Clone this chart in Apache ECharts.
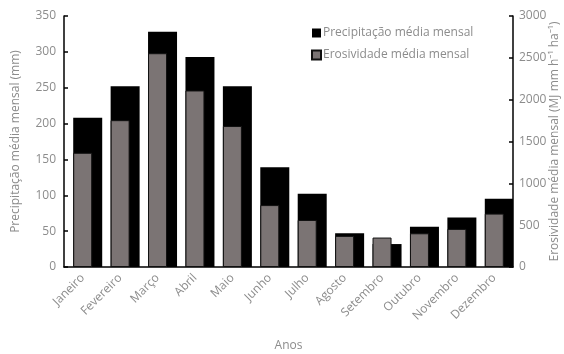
<!DOCTYPE html>
<html>
<head>
<meta charset="utf-8">
<script src="https://cdn.jsdelivr.net/npm/echarts@6/dist/echarts.min.js"></script>
<style>
  html, body { margin: 0; padding: 0; background: #fff; }
  #chart { width: 564px; height: 354px; }
</style>
</head>
<body>
<div id="chart"></div>
<script>
// Monthly categories and series values
const months = ['Janeiro', 'Fevereiro', 'Março', 'Abril', 'Maio', 'Junho', 'Julho', 'Agosto', 'Setembro', 'Outubro', 'Novembro', 'Dezembro'];
const precipitacao = [208, 252, 328, 293, 252, 139, 102, 47, 32, 56, 69, 95];
const erosividade = [1365, 1755, 2555, 2110, 1685, 740, 562, 372, 352, 403, 455, 638];

const leftTicks = { min: 0, max: 350, interval: 50 };
const rightTicks = { min: 0, max: 3000, interval: 500 };

const font = '"Open Sans", "Noto Sans", sans-serif';
const textGrey = '#8c8c8c';

const chart = echarts.init(document.getElementById('chart'), null, { renderer: 'canvas' });

chart.setOption({
  animation: false,
  backgroundColor: '#ffffff',
  textStyle: { fontFamily: font },
  grid: { left: 64, right: 51, top: 16, bottom: 87, containLabel: false, outerBoundsMode: 'none' },
  legend: {
    orient: 'vertical',
    left: 306,
    top: 22,
    itemWidth: 9,
    itemHeight: 9,
    itemGap: 10,
    icon: 'rect',
    textStyle: { color: textGrey, fontSize: 12, fontFamily: font, padding: [0, 0, 0, -3] },
    data: ['Precipitação média mensal', 'Erosividade média mensal']
  },
  xAxis: {
    type: 'category',
    data: months,
    name: 'Anos',
    nameLocation: 'middle',
    nameGap: 73,
    nameTextStyle: { color: textGrey, fontSize: 12 },
    axisLine: { show: true, lineStyle: { color: '#000', width: 1.5 } },
    axisTick: { show: false },
    axisLabel: { rotate: 45, color: textGrey, fontSize: 12, margin: 9, interval: 0 }
  },
  yAxis: [
    {
      type: 'value',
      min: leftTicks.min, max: leftTicks.max, interval: leftTicks.interval,
      name: 'Precipitação média mensal (mm)',
      nameLocation: 'middle',
      nameRotate: 90,
      nameGap: 42,
      nameMoveOverlap: false,
      nameTextStyle: { color: textGrey, fontSize: 12 },
      axisLine: { show: true, lineStyle: { color: '#000', width: 1.5 } },
      axisTick: { show: true, inside: true, length: 4, lineStyle: { color: '#000', width: 1.5 } },
      axisLabel: { color: textGrey, fontSize: 12, margin: 8 },
      splitLine: { show: false }
    },
    {
      type: 'value',
      position: 'right',
      min: rightTicks.min, max: rightTicks.max, interval: rightTicks.interval,
      name: 'Erosividade média mensal (MJ mm h⁻¹ ha⁻¹)',
      nameLocation: 'middle',
      nameRotate: 90,
      nameGap: 36,
      nameMoveOverlap: false,
      nameTextStyle: { color: textGrey, fontSize: 12 },
      axisLine: { show: true, lineStyle: { color: '#000', width: 1.5 } },
      axisTick: { show: true, inside: true, length: 4, lineStyle: { color: '#000', width: 1.5 } },
      axisLabel: { color: textGrey, fontSize: 12, margin: 6, formatter: v => String(v) },
      splitLine: { show: false }
    }
  ],
  series: [
    {
      name: 'Precipitação média mensal',
      type: 'bar',
      yAxisIndex: 0,
      data: precipitacao,
      barWidth: 29,
      barGap: '-100%',
      itemStyle: { color: '#000000' },
      z: 2
    },
    {
      name: 'Erosividade média mensal',
      type: 'bar',
      yAxisIndex: 1,
      data: erosividade,
      barWidth: 19,
      barGap: '-100%',
      itemStyle: { color: '#7b7474', borderColor: '#111', borderWidth: 1 },
      z: 3
    }
  ]
});
</script>
</body>
</html>
